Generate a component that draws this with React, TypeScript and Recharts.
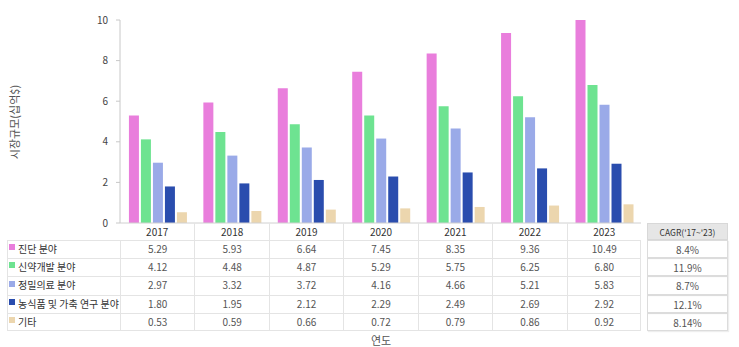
import React from 'react';
import { BarChart, Bar, XAxis, YAxis } from 'recharts';

const years = ['2017', '2018', '2019', '2020', '2021', '2022', '2023'];
const seriesNames = ['진단 분야', '신약개발 분야', '정밀의료 분야', '농식품 및 가축 연구 분야', '기타'];
const diagnosis = [5.29, 5.93, 6.64, 7.45, 8.35, 9.36, 10.49];
const drugDev = [4.12, 4.48, 4.87, 5.29, 5.75, 6.25, 6.8];
const precision = [2.97, 3.32, 3.72, 4.16, 4.66, 5.21, 5.83];
const agri = [1.8, 1.95, 2.12, 2.29, 2.49, 2.69, 2.92];
const others = [0.53, 0.59, 0.66, 0.72, 0.79, 0.86, 0.92];
const cagr = ['8.4%', '11.9%', '8.7%', '12.1%', '8.14%'];
const yTicks = [0, 2, 4, 6, 8, 10];

const colors = ['#E97EDC', '#6EE391', '#9AAAE8', '#2A4DAE', '#ECD6AE'];
const allSeries = [diagnosis, drugDev, precision, agri, others];
const keys = ['s0', 's1', 's2', 's3', 's4'];

const data = years.map((year, i) => {
  const row: Record<string, string | number> = { year };
  allSeries.forEach((s, k) => {
    row[keys[k]] = s[i];
  });
  return row;
});

const font = '"Noto Sans CJK KR", "Noto Sans", sans-serif';
const plotLeft = 120;
const plotRight = 641;
const colW = (plotRight - plotLeft) / years.length;
const headerTop = 223;
const headerH = 17;
const rowH = 18.2;
const border = '#e4e4e4';

const App = () => {
  return (
    <div style={{ position: 'absolute', left: 0, top: 0, width: 739, height: 347, background: '#fff', fontFamily: font }}>
      <BarChart
        width={739}
        height={240}
        data={data}
        margin={{ top: 20, right: 739 - plotRight, bottom: 0, left: 0 }}
        barCategoryGap="12%"
        barGap={2}
      >
        <XAxis dataKey="year" height={17} tick={false} tickLine={false} axisLine={{ stroke: '#d0d0d0' }} />
        <YAxis
          width={plotLeft}
          domain={[0, 10]}
          ticks={yTicks}
          allowDataOverflow
          tickSize={4}
          tickMargin={8}
          axisLine={{ stroke: '#c8c8c8' }}
          tickLine={{ stroke: '#c8c8c8' }}
          tick={{ fontSize: 10, fill: '#444', fontFamily: font }}
        />
        {keys.map((k, i) => (
          <Bar key={k} dataKey={k} fill={colors[i]} isAnimationActive={false} />
        ))}
      </BarChart>

      <div
        style={{
          position: 'absolute',
          left: 14,
          top: 122,
          transform: 'translate(-50%, -50%) rotate(-90deg)',
          whiteSpace: 'nowrap',
          fontSize: 11,
          color: '#555',
        }}
      >
        시장규모(십억$)
      </div>

      {/* year header */}
      {years.map((y, i) => (
        <div
          key={y}
          style={{
            position: 'absolute',
            left: plotLeft + i * colW,
            top: headerTop,
            width: colW,
            height: headerH,
            lineHeight: headerH + 'px',
            textAlign: 'center',
            fontSize: 10,
            color: '#333',
            borderLeft: i === 0 ? 'none' : `1px solid ${border}`,
            boxSizing: 'border-box',
          }}
        >
          {y}
        </div>
      ))}

      {/* data rows */}
      {seriesNames.map((name, r) => {
        const top = headerTop + headerH + r * rowH;
        return (
          <React.Fragment key={name}>
            <div
              style={{
                position: 'absolute',
                left: 7,
                top,
                width: plotRight - 7,
                height: rowH,
                borderTop: `1px solid ${border}`,
                borderBottom: r === seriesNames.length - 1 ? `1px solid ${border}` : 'none',
                borderLeft: `1px solid ${border}`,
                borderRight: `1px solid ${border}`,
                boxSizing: 'border-box',
              }}
            />
            <div
              style={{
                position: 'absolute',
                left: 9,
                top,
                height: rowH,
                lineHeight: rowH + 'px',
                fontSize: 10,
                color: '#333',
                whiteSpace: 'nowrap',
              }}
            >
              <span style={{ display: 'inline-block', width: 6, height: 6, background: colors[r], marginRight: 3, verticalAlign: 'middle', position: 'relative', top: -3 }} />
              {name}
            </div>
            {allSeries[r].map((v, i) => (
              <div
                key={i}
                style={{
                  position: 'absolute',
                  left: plotLeft + i * colW,
                  top,
                  width: colW,
                  height: rowH,
                  lineHeight: rowH + 'px',
                  textAlign: 'center',
                  fontSize: 10,
                  color: '#555',
                  borderLeft: `1px solid ${border}`,
                  boxSizing: 'border-box',
                }}
              >
                {v.toFixed(2)}
              </div>
            ))}
          </React.Fragment>
        );
      })}

      {/* CAGR column */}
      <div
        style={{
          position: 'absolute',
          left: 647,
          top: headerTop,
          width: 81,
          height: headerH,
          lineHeight: headerH + 'px',
          background: '#e6e6e6',
          textAlign: 'center',
          fontSize: 8.5,
          color: '#333',
          border: '1px solid #d8d8d8',
          boxSizing: 'border-box',
        }}
      >
        CAGR('17~'23)
      </div>
      {cagr.map((c, r) => (
        <div
          key={r}
          style={{
            position: 'absolute',
            left: 647,
            top: headerTop + headerH + r * rowH,
            width: 81,
            height: rowH,
            lineHeight: rowH + 'px',
            textAlign: 'center',
            fontSize: 10,
            color: '#555',
            border: `1px solid #dcdcdc`,
            boxSizing: 'border-box',
            boxShadow: '1px 1px 1px #eee',
          }}
        >
          {c}
        </div>
      ))}

      <div style={{ position: 'absolute', left: 381, top: 340, transform: 'translate(-50%, -50%)', fontSize: 11, color: '#555' }}>
        연도
      </div>
    </div>
  );
};

export default App;
